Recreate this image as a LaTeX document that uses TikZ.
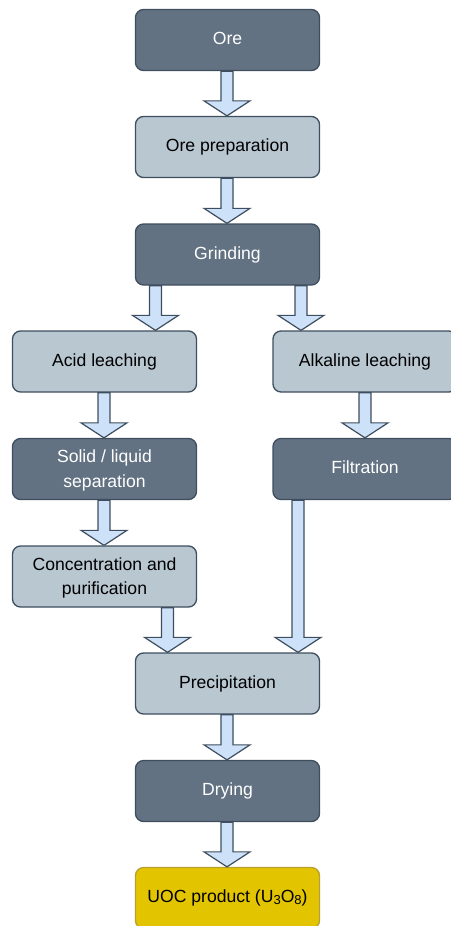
\documentclass[tikz,border=0pt]{standalone}
\usepackage{fontspec}
\setmainfont{Liberation Sans}
\usetikzlibrary{calc}

\definecolor{darkbox}{HTML}{627282}
\definecolor{lightbox}{HTML}{B9C7D1}
\definecolor{edge}{HTML}{3E4E5E}
\definecolor{flowfill}{HTML}{CDE1F9}
\definecolor{product}{HTML}{E2C400}
\definecolor{productedge}{HTML}{B8A030}

\tikzset{
  stage/.style={draw=edge, line width=1.3pt, rounded corners=8pt,
    minimum width=184pt, minimum height=61pt, inner sep=0pt, align=center,
    font=\fontsize{17.6}{24.4}\selectfont},
  darkstage/.style={stage, fill=darkbox, text=white},
  lightstage/.style={stage, fill=lightbox, text=black},
  productstage/.style={stage, fill=product, draw=productedge, text=black},
  flow/.style={draw=edge, fill=flowfill, line width=1.2pt, line join=miter},
}

% Block arrow going straight down at x = #1 (pt) from node #2 to node #3
\newcommand\flowarrow[3]{%
  \path[flow] let \p1=(#2.south), \p2=(#3.north) in
    ({#1pt-6pt},\y1) -- ({#1pt+6pt},\y1) -- ({#1pt+6pt},{\y2+15pt})
    -- ({#1pt+23pt},{\y2+15pt}) -- ({#1pt},\y2) -- ({#1pt-23pt},{\y2+15pt})
    -- ({#1pt-6pt},{\y2+15pt}) -- cycle;}

% fixed line height/depth so every label sits at the same baseline
\newcommand\lineprop{\rule[-6pt]{0pt}{21pt}}
\newcommand\firstprop{\rule[-6pt]{0pt}{24pt}}
\newcommand\subnum[1]{{\fontsize{13}{13}\selectfont\raisebox{-2.2pt}{#1}}}

\begin{document}
\begin{tikzpicture}[x=1pt, y=-1pt]
  \useasboundingbox (0,0) rectangle (450,926);

  % process stages
  \node[darkstage]    (ore)    at (227.5,40)    {Ore\lineprop};
  \node[lightstage]   (prep)   at (227.5,147)   {Ore preparation\lineprop};
  \node[darkstage]    (grind)  at (227.5,254.5) {Grinding\lineprop};
  \node[lightstage]   (acid)   at (104.5,361.5) {Acid leaching\lineprop};
  \node[lightstage]   (alk)    at (365,361.5)   {Alkaline leaching\lineprop};
  \node[darkstage]    (solid)  at (104.5,469)   {Solid / liquid\firstprop\\separation\lineprop};
  \node[darkstage]    (filt)   at (365,469)     {Filtration\lineprop};
  \node[lightstage]   (conc)   at (104.5,576.5) {Concentration and\firstprop\\purification\lineprop};
  \node[lightstage]   (precip) at (227.5,683.5) {Precipitation\lineprop};
  \node[darkstage]    (dry)    at (227.5,791)   {Drying\lineprop};
  \node[productstage] (uoc)    at (227.5,898)   {UOC product (U\subnum{3}O\subnum{8})\lineprop};

  % flow between stages
  \flowarrow{227}{ore}{prep}
  \flowarrow{227}{prep}{grind}
  \flowarrow{155.5}{grind}{acid}
  \flowarrow{301}{grind}{alk}
  \flowarrow{104}{acid}{solid}
  \flowarrow{365}{alk}{filt}
  \flowarrow{104}{solid}{conc}
  \flowarrow{167.5}{conc}{precip}
  \flowarrow{298}{filt}{precip}
  \flowarrow{227}{precip}{dry}
  \flowarrow{227}{dry}{uoc}
\end{tikzpicture}
\end{document}
